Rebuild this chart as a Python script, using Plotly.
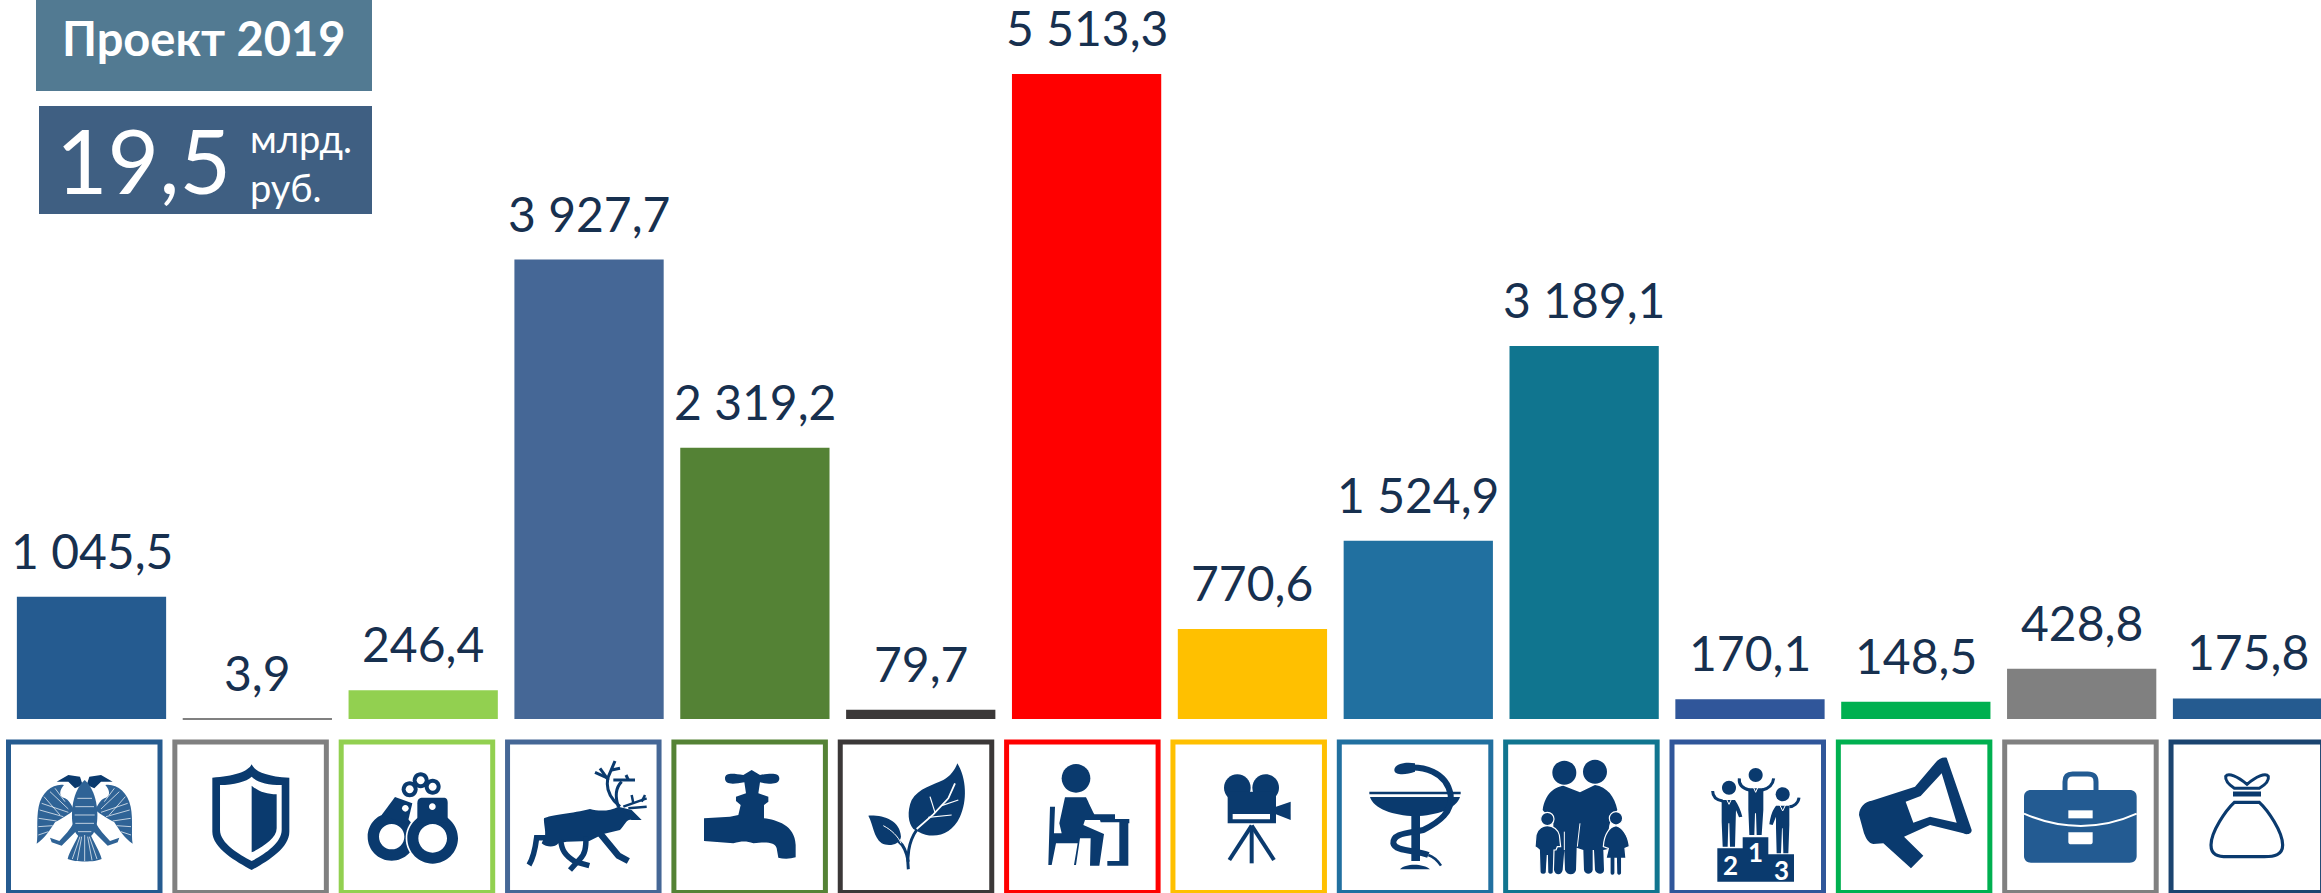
import re
import plotly.graph_objects as go

W, H = 2321, 893

# ---------- data ----------
categories = ["Госуправление", "Оборона", "Безопасность", "Экономика", "ЖКХ", "Экология", "Образование",
              "Культура", "Здравоохранение", "Соцполитика", "Спорт", "СМИ", "Межбюджетные", "Долг"]
values = [1045.5, 3.9, 246.4, 3927.7, 2319.2, 79.7, 5513.3, 770.6, 1524.9, 3189.1, 170.1, 148.5, 428.8, 175.8]
value_labels = ["1 045,5", "3,9", "246,4", "3 927,7", "2 319,2", "79,7", "5 513,3", "770,6", "1 524,9",
                "3 189,1", "170,1", "148,5", "428,8", "175,8"]
bar_colors = ["#255B90", "#808080", "#92D050", "#456796", "#548235", "#3B3838", "#FF0000", "#FFC000",
              "#2170A0", "#10758F", "#30569A", "#00B050", "#808080", "#255B90"]
box_colors = ["#255B90", "#808080", "#92D050", "#456796", "#548235", "#3B3838", "#FF0000", "#FFC000",
              "#2170A0", "#10758F", "#30569A", "#00B050", "#808080", "#1B4470"]

NAVY = "#0A3A6E"
shapes, annos = [], []


# ---------- helpers ----------
def tx(d, ox, oy=735):
    """Convert a path drawn in zoom-crop coordinates to paper coordinates."""
    out, nums = [], []
    for tok in re.findall(r"[A-Za-z]|-?\d+\.?\d*", d):
        if tok.isalpha():
            out.append(tok)
        else:
            nums.append(float(tok))
            if len(nums) == 2:
                out.append(f"{(ox + nums[0] / 3) / W:.5f},{1 - (oy + nums[1] / 3) / H:.5f}")
                nums = []
    return " ".join(out)


def fill(d, ox, color=NAVY, line=None, lw=0):
    shapes.append(dict(type="path", xref="paper", yref="paper", path=tx(d, ox), fillcolor=color,
                       line=dict(color=line or color, width=lw)))


def stroke(d, ox, color=NAVY, lw=2.0):
    shapes.append(dict(type="path", xref="paper", yref="paper", path=tx(d, ox),
                       fillcolor="rgba(0,0,0,0)", line=dict(color=color, width=lw)))


def circ(cx, cy, r):
    k = 0.5523 * r
    return (f"M{cx-r},{cy} C{cx-r},{cy-k} {cx-k},{cy-r} {cx},{cy-r} C{cx+k},{cy-r} {cx+r},{cy-k} {cx+r},{cy} "
            f"C{cx+r},{cy+k} {cx+k},{cy+r} {cx},{cy+r} C{cx-k},{cy+r} {cx-r},{cy+k} {cx-r},{cy} Z")


def rect(x0, y0, x1, y1):
    return f"M{x0},{y0} L{x1},{y0} L{x1},{y1} L{x0},{y1} Z"


def mirror(d, axis):
    out, idx = [], 0
    for tok in re.findall(r"[A-Za-z]|-?\d+\.?\d*", d):
        if tok.isalpha():
            out.append(tok)
        else:
            out.append(str(2 * axis - float(tok)) if idx % 2 == 0 else tok)
            idx += 1
    return " ".join(out)


def text(x, y, s, size, color="white", family="Lato", xanchor="center", bold=False):
    annos.append(dict(xref="paper", yref="paper", x=x / W, y=1 - y / H, text=f"<b>{s}</b>" if bold else s,
                      showarrow=False, xanchor=xanchor, yanchor="middle",
                      font=dict(size=size, color=color, family=family)))


# ---------- header panels ----------
shapes.append(dict(type="rect", xref="paper", yref="paper", x0=36 / W, x1=372 / W, y0=1 - 91 / H, y1=1,
                   fillcolor="#527A92", line=dict(width=0)))
shapes.append(dict(type="rect", xref="paper", yref="paper", x0=39 / W, x1=372 / W, y0=1 - 214 / H, y1=1 - 106 / H,
                   fillcolor="#3F5F82", line=dict(width=0)))
text(204, 38, "Проект 2019", 47, bold=True)
text(143, 160, "19,5", 89)
text(248, 138, "млрд.", 38, xanchor="left")
text(248, 187, "руб.", 38, xanchor="left")

# ---------- icon frames ----------
for i, c in enumerate(box_colors):
    x0 = 8.5 + 166.35 * i
    shapes.append(dict(type="rect", xref="paper", yref="paper", x0=x0 / W, x1=(x0 + 151.5) / W,
                       y0=1 - 892.5 / H, y1=1 - 742 / H, fillcolor="white", line=dict(color=c, width=5)))

# ---------- icons: crop 0 ----------
EAG = "#2F6396"
wing = ("M222,225 C212,205 206,195 195,190 C175,185 178,165 192,150 C160,145 125,170 116,215 C108,255 115,300 110,326 "
        "C135,310 150,285 165,262 C185,250 205,240 222,225 Z")
leg = "M222,262 C210,285 195,300 178,318 L150,308 L155,322 L185,332 L232,285 Z"
for d in (wing, leg):
    fill(d, 0, EAG)
    fill(mirror(d, 254), 0, EAG)
head = "M170,140 L205,120 L240,125 L248,150 L225,160 L205,140 Z"
fill(head, 0, NAVY)
fill(mirror(head, 254), 0, NAVY)
fill("M254,135 C225,160 210,215 218,270 C225,300 240,310 254,312 C268,310 283,300 290,270 C298,215 283,160 254,135 Z", 0, EAG)
fill("M238,295 L270,295 C280,320 300,350 305,372 C285,382 225,382 203,372 C208,350 228,320 238,295 Z", 0, EAG)
for s in ("M125,205 L205,232", "M119,225 L190,245", "M116,250 L170,258", "M115,275 L158,272", "M115,300 L145,290",
          "M150,170 L205,222", "M132,185 L180,240", "M165,160 L195,200"):
    stroke(s, 0, "white", 0.7)
    stroke(mirror(s, 254), 0, "white", 0.7)
for s in ("M254,300 L254,378", "M245,305 L232,376", "M263,305 L276,376", "M240,305 L217,372", "M268,305 L291,372",
          "M232,190 L276,190", "M226,215 L282,215", "M224,240 L284,240", "M226,265 L282,265", "M234,290 L274,290"):
    stroke(s, 0, "white", 0.7)

fill("M755,88 C762,105 790,125 868,128 L868,290 C868,340 800,380 755,405 C710,380 637,340 637,290 L637,128 C700,125 745,110 755,88 Z "
     "M755,125 C770,140 800,150 845,150 L845,285 C845,325 790,360 755,378 C720,360 660,325 660,285 L660,150 C700,150 740,140 755,125 Z "
     "M755,152 C775,170 800,178 830,178 L830,280 C830,310 790,335 755,352 Z", 0)

fill(circ(1175, 305, 72) + " " + circ(1175, 305, 38), 0)
fill("M1185,186 L1237,205 L1222,268 L1145,240 Z", 0)
fill(circ(1216, 220, 10), 0, "white")
fill(circ(1298, 310, 81), 0, "white")
fill(circ(1298, 310, 76) + " " + circ(1298, 310, 43), 0)
fill("M1252,262 L1252,205 C1252,192 1258,188 1268,188 L1330,188 C1340,188 1343,192 1343,205 L1343,262 Z", 0)
fill(circ(1297, 215, 10), 0, "white")
for cx, cy in ((1229, 163), (1262, 136), (1298, 155)):
    fill(circ(cx, cy, 24), 0)
for cx, cy in ((1229, 163), (1262, 136), (1298, 155)):
    fill(circ(cx, cy, 12), 0, "white")

# ---------- icons: crop 500 ----------
fill("M132,250 C150,240 220,235 270,222 C300,230 330,228 355,215 L395,225 L425,255 L395,255 C380,250 375,270 360,285 L310,297 "
     "L268,318 L200,320 L175,325 C165,338 140,338 125,325 L135,303 C138,290 130,260 132,250 Z", 500)
for s, w in (("M135,308 L110,308 C106,340 102,365 87,390", 5.5), ("M182,315 C185,345 195,362 225,380 L268,392", 5.5),
             ("M258,305 C258,340 255,358 240,372 L210,405", 5.5), ("M300,295 L355,362 L385,378", 6.5)):
    stroke(s, 500, lw=w)
for s in ("M360,215 C330,190 315,160 325,125 L345,78", "M325,130 L285,112", "M335,105 L360,100", "M325,135 L300,100",
          "M340,135 L405,135", "M355,215 C345,185 345,160 365,140", "M385,135 L378,120"):
    stroke(s, 500, lw=3)
for s in ("M370,215 L440,190", "M400,205 L395,180", "M425,200 L435,180", "M385,220 L440,215"):
    stroke(s, 500, lw=2.5)

fill("M675,130 C675,112 700,115 730,120 L755,105 L780,120 C810,115 838,112 838,130 C838,150 810,148 780,142 L775,175 L805,185 "
     "L805,200 L792,210 L792,250 C830,255 885,270 887,330 L887,367 C870,372 850,372 835,368 L830,340 C825,322 800,320 760,325 "
     "C740,318 725,318 700,325 L612,318 L612,250 L690,245 L715,240 L722,210 L708,198 L708,185 L738,175 L733,142 C700,148 675,150 675,130 Z", 500)

fill("M1372,85 C1400,130 1402,200 1380,245 C1355,300 1300,315 1255,290 L1240,282 C1225,265 1220,230 1235,195 C1255,160 1300,150 1330,135 C1350,125 1365,105 1372,85 Z", 500)
fill("M1105,242 C1150,240 1200,255 1203,305 C1200,330 1165,335 1145,325 C1120,305 1120,270 1105,242 Z", 500)
for s in ("M1225,403 C1220,370 1225,320 1250,285", "M1225,380 C1220,350 1210,330 1195,318"):
    stroke(s, 500, lw=3)
for s, w in (("M1250,282 L1300,238 L1345,190 L1365,145", 1.8), ("M1305,232 L1290,185", 1.2), ("M1325,212 L1375,195", 1.2),
             ("M1285,247 L1355,240", 1.2), ("M1150,272 C1175,285 1195,305 1203,325", 1.0)):
    stroke(s, 500, "white", w)

# ---------- icons: crop 1000 ----------
fill(circ(228, 130, 43), 1000)
fill("M195,187 L258,187 C265,200 275,225 283,238 L345,238 L345,252 L388,252 L388,265 L385,265 L385,392 L322,392 L322,378 L358,378 "
     "L358,262 L302,262 L300,255 L255,255 L250,270 L312,297 L298,392 L270,392 L272,310 L240,310 L228,390 L222,390 L233,325 L168,325 "
     "L155,390 L145,390 L150,215 L165,215 L162,295 L185,295 L178,265 Z", 1000)

fill(circ(712, 158, 40), 1000)
fill(circ(797, 158, 40), 1000)
fill(rect(683, 170, 828, 265), 1000)
fill(rect(698, 237, 810, 253), 1000, "white")
fill("M828,215 L872,200 L872,255 L828,238 Z", 1000)
for s in ("M755,272 L688,375", "M755,272 L755,385", "M755,272 L822,375"):
    stroke(s, 1000, lw=4)

fill("M1110,186 L1380,186 C1370,220 1310,243 1245,243 C1180,243 1120,220 1110,186 Z", 1000)
fill(rect(1108, 170, 1382, 178), 1000)
fill(rect(1234, 243, 1260, 378), 1000)
fill("M1200,403 C1215,385 1270,385 1290,403 Z", 1000)
stroke("M1205,100 C1270,90 1340,110 1352,180 C1358,230 1320,260 1270,285 C1220,295 1178,295 1180,325 C1185,350 1250,345 1285,360", 1000, lw=6)
stroke("M1285,360 C1300,365 1315,380 1323,392", 1000, lw=2.5)
fill("M1183,105 C1183,85 1220,80 1245,85 L1245,110 C1220,120 1183,122 1183,105 Z", 1000)

# ---------- icons: crop 1500 ----------
fill(circ(193, 113, 36), 1500)
fill(circ(285, 110, 36), 1500)
fill("M128,225 C135,175 165,155 190,152 L240,172 L285,150 C320,155 345,185 352,225 L340,240 C325,270 320,290 335,340 L310,345 "
     "L312,405 C312,420 290,420 285,405 L282,345 L278,345 L278,405 C275,420 255,420 252,405 L250,345 L230,338 L228,405 C225,422 200,422 "
     "195,405 L193,345 L188,405 C185,422 165,422 162,405 L160,330 L160,260 C150,240 135,235 128,225 Z", 1500)
stroke("M240,265 L232,335", 1500, "white", 1)
stroke("M193,290 L193,345", 1500, "white", 1)
fill(circ(142, 252, 20), 1500, NAVY, "white", 1.2)
fill("M105,335 L108,300 C112,280 130,272 142,272 C160,272 175,285 178,300 L182,335 L172,335 L168,345 L162,345 L160,412 C160,420 145,420 "
     "143,412 L142,360 L139,412 C137,420 122,420 120,412 L118,345 L112,340 Z", 1500, NAVY, "white", 1.2)
fill(circ(348, 250, 20), 1500, NAVY, "white", 1.2)
fill("M310,335 C312,295 330,275 348,272 C365,275 385,300 388,335 L375,340 L378,370 L365,370 L365,415 C362,423 352,423 350,415 L349,370 "
     "L345,370 L345,415 C342,423 332,423 330,415 L330,370 L318,370 L325,340 Z", 1500, NAVY, "white", 1.2)

fill("M652,340 L728,340 L728,307 L805,307 L805,358 L882,358 L882,440 L652,440 Z", 1500)
fill(circ(767, 120, 21), 1500)
fill("M745,160 L790,160 L790,225 L785,300 L770,300 L768,235 L765,235 L763,300 L748,300 L745,225 Z", 1500)
stroke("M748,165 C728,160 716,148 718,130", 1500, lw=3)
stroke("M787,165 C807,160 819,148 821,130", 1500, lw=3)
fill(circ(687, 158, 21), 1500)
fill("M665,195 L705,195 C715,210 722,225 727,245 L717,247 L708,225 L707,260 L705,335 L690,335 L688,265 L685,265 L683,335 L668,335 L665,260 Z", 1500)
stroke("M668,198 C650,195 638,185 638,168", 1500, lw=3)
fill(circ(848, 178, 21), 1500)
fill("M828,212 L868,212 L868,270 L865,355 L850,355 L848,280 L846,280 L843,355 L830,355 L828,280 L828,245 L818,270 L808,268 C812,240 818,225 828,212 Z", 1500)
stroke("M868,215 C880,215 895,205 897,188", 1500, lw=3)
for s in ("M755,145 L767,172 L779,145", "M675,183 L687,208 L699,183", "M836,203 L848,228 L860,203"):
    stroke(s, 1500, "white", 1)

fill("M1340,68 L1415,285 C1415,298 1400,300 1390,295 L1290,270 L1212,305 L1270,362 L1233,400 L1150,325 L1120,327 C1105,325 1098,310 1092,295 "
     "L1077,240 C1078,215 1095,200 1115,197 L1245,155 L1305,85 C1315,70 1330,65 1340,68 Z "
     "M1325,115 L1370,263 L1290,245 L1240,263 L1217,200 L1262,183 Z", 1500)

text(1500 + 690 / 3, 735 + 390 / 3, "2", 26, bold=True)
text(1500 + 765 / 3, 735 + 350 / 3, "1", 26, bold=True)
text(1500 + 845 / 3, 735 + 405 / 3, "3", 26, bold=True)

# ---------- icons: crop 1821 ----------
BC = "#235B92"
fill("M609,185 C609,172 618,165 630,165 L926,165 C938,165 947,172 947,185 L947,363 C947,376 938,383 926,383 L630,383 C618,383 609,376 609,363 Z", 1821, BC)
stroke("M732,165 L732,140 C732,122 742,117 755,117 L800,117 C815,117 825,122 825,140 L825,165", 1821, BC, 5)
stroke("M609,236 C720,285 840,285 947,236", 1821, "white", 2)
fill(rect(742, 226, 815, 250), 1821, "white")
fill("M742,292 L815,292 L815,320 C815,326 812,328 806,328 L751,328 C745,328 742,326 742,320 Z", 1821, "white")

stroke("M1240,202 L1315,202 C1340,225 1385,290 1385,330 C1385,360 1360,365 1330,365 L1220,365 C1190,365 1170,360 1170,330 C1170,290 1215,225 1240,202 Z", 1821, lw=3.2)
stroke("M1236,177 L1320,177", 1821, lw=5)
stroke("M1278,148 C1250,125 1222,112 1214,124 C1212,138 1228,152 1240,160 L1315,160 C1328,152 1345,138 1342,124 C1334,112 1305,125 1278,148 Z", 1821, lw=3)

# ---------- value labels ----------
for c, v, s in zip(categories, values, value_labels):
    annos.append(dict(xref="x", yref="y", x=c, y=v, text=s, showarrow=False, xanchor="center", yanchor="bottom",
                      yshift=16, font=dict(size=48, color="#17304F", family="Lato")))

# ---------- chart ----------
fig = go.Figure(go.Bar(x=categories, y=values, marker=dict(color=bar_colors, line=dict(width=0)), hoverinfo="skip"))
fig.update_layout(width=W, height=H, margin=dict(l=0, r=0, t=0, b=0), paper_bgcolor="white", plot_bgcolor="white",
                  bargap=0.1, showlegend=False, shapes=shapes, annotations=annos,
                  font=dict(family="Lato"))
fig.update_xaxes(visible=False, type="category", range=[-0.5517, 13.443], categoryorder="array", categoryarray=categories)
fig.update_yaxes(visible=False, range=[-1487, 6146])
fig.write_html("out.html", post_script="document.body.style.margin='0';document.documentElement.style.overflow='hidden';",
               config=dict(displayModeBar=False))
